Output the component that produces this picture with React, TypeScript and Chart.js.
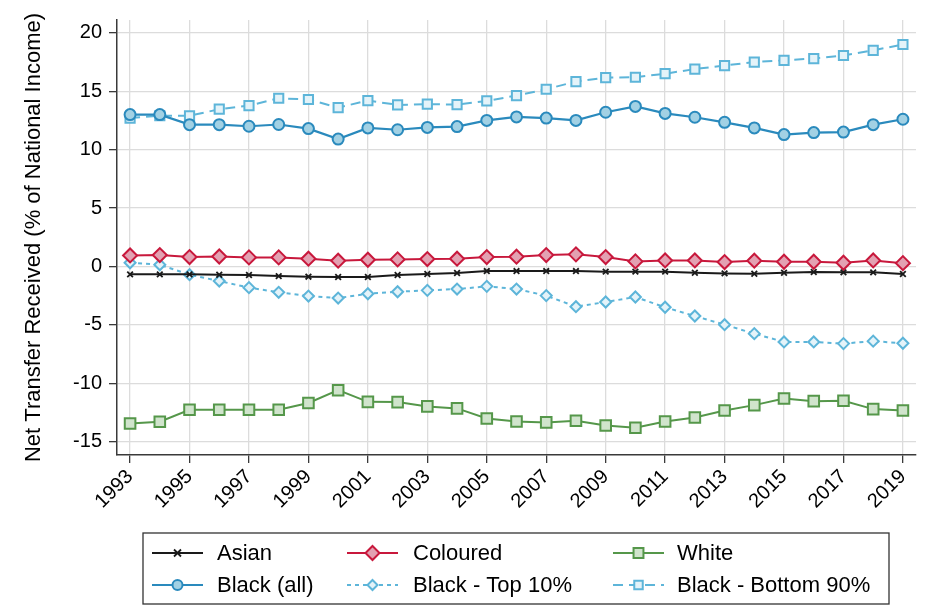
import React, { useEffect, useRef } from "react";
import { Chart, registerables } from "chart.js";

Chart.register(...registerables);

const years = [1993, 1994, 1995, 1996, 1997, 1998, 1999, 2000, 2001, 2002, 2003, 2004, 2005, 2006, 2007, 2008, 2009, 2010, 2011, 2012, 2013, 2014, 2015, 2016, 2017, 2018, 2019];
const asian = [-0.68, -0.68, -0.68, -0.71, -0.74, -0.83, -0.88, -0.91, -0.91, -0.74, -0.65, -0.57, -0.4, -0.4, -0.4, -0.4, -0.45, -0.45, -0.45, -0.54, -0.6, -0.63, -0.54, -0.48, -0.51, -0.51, -0.65];
const coloured = [0.94, 0.97, 0.8, 0.85, 0.77, 0.77, 0.66, 0.49, 0.57, 0.6, 0.63, 0.66, 0.8, 0.83, 0.97, 1.03, 0.8, 0.43, 0.51, 0.51, 0.37, 0.49, 0.4, 0.4, 0.31, 0.51, 0.28];
const white = [-13.45, -13.3, -12.28, -12.28, -12.28, -12.28, -11.7, -10.6, -11.6, -11.62, -11.99, -12.16, -13.02, -13.28, -13.36, -13.22, -13.62, -13.82, -13.28, -12.94, -12.34, -11.88, -11.31, -11.54, -11.51, -12.22, -12.34];
const blackAll = [13.0, 13.0, 12.14, 12.14, 12.0, 12.15, 11.8, 10.9, 11.86, 11.7, 11.9, 11.97, 12.5, 12.8, 12.7, 12.5, 13.2, 13.7, 13.1, 12.77, 12.34, 11.86, 11.29, 11.46, 11.5, 12.14, 12.6];
const blackTop10 = [0.31, 0.14, -0.71, -1.25, -1.82, -2.22, -2.54, -2.71, -2.34, -2.17, -2.05, -1.94, -1.71, -1.94, -2.5, -3.45, -3.05, -2.62, -3.5, -4.25, -4.99, -5.76, -6.47, -6.47, -6.61, -6.4, -6.58];
const blackBottom90 = [12.7, 12.9, 12.9, 13.46, 13.77, 14.4, 14.29, 13.6, 14.2, 13.83, 13.89, 13.86, 14.17, 14.63, 15.17, 15.83, 16.17, 16.2, 16.5, 16.9, 17.2, 17.5, 17.65, 17.8, 18.06, 18.5, 19.0];

const seriesLabels = ["Asian", "Coloured", "White", "Black (all)", "Black - Top 10%", "Black - Bottom 90%"];
const xTickYears = [1993, 1995, 1997, 1999, 2001, 2003, 2005, 2007, 2009, 2011, 2013, 2015, 2017, 2019];
const yTickValues = [-15, -10, -5, 0, 5, 10, 15, 20];
const yTitle = "Net Transfer Received (% of National Income)";

const FONT = "'Liberation Sans', Arial, Helvetica, sans-serif";

const toPoints = (vals: number[]) => vals.map((v, i) => ({ x: years[i], y: v }));

type Sty = {
  color: string;
  fill: string;
  shape: string;
  r: number;
  lr: number;
  dash: number[];
  width: number;
};

const styles: Sty[] = [
  { color: "#1a1a1a", fill: "#1a1a1a", shape: "crossRot", r: 4, lr: 3.5, dash: [], width: 2 },
  { color: "#c8183c", fill: "#e3a1b2", shape: "rectRot", r: 7, lr: 7, dash: [], width: 2 },
  { color: "#55974a", fill: "#d0e4cc", shape: "rect", r: 7.5, lr: 7, dash: [], width: 2 },
  { color: "#2a8abd", fill: "#a2d1e4", shape: "circle", r: 5.5, lr: 5, dash: [], width: 2.2 },
  { color: "#5db5d9", fill: "#e4f3f9", shape: "rectRot", r: 5.5, lr: 5, dash: [4, 4], width: 2 },
  { color: "#5db5d9", fill: "#e4f3f9", shape: "rect", r: 6.5, lr: 6, dash: [10, 6], width: 2 },
];

function drawMarker(ctx: CanvasRenderingContext2D, s: Sty, x: number, y: number, r: number) {
  ctx.save();
  ctx.setLineDash([]);
  ctx.lineWidth = s.shape === "crossRot" ? 1.8 : 2;
  ctx.strokeStyle = s.color;
  ctx.fillStyle = s.fill;
  ctx.beginPath();
  if (s.shape === "circle") {
    ctx.arc(x, y, r, 0, Math.PI * 2);
    ctx.fill();
    ctx.stroke();
  } else if (s.shape === "rect") {
    const h = r * Math.SQRT1_2;
    ctx.rect(x - h, y - h, 2 * h, 2 * h);
    ctx.fill();
    ctx.stroke();
  } else if (s.shape === "rectRot") {
    ctx.moveTo(x, y - r);
    ctx.lineTo(x + r, y);
    ctx.lineTo(x, y + r);
    ctx.lineTo(x - r, y);
    ctx.closePath();
    ctx.fill();
    ctx.stroke();
  } else {
    ctx.moveTo(x - r, y - r);
    ctx.lineTo(x + r, y + r);
    ctx.moveTo(x + r, y - r);
    ctx.lineTo(x - r, y + r);
    ctx.stroke();
  }
  ctx.restore();
}

const legendPlugin = {
  id: "gridLegend",
  afterDraw(chart: any) {
    const ctx: CanvasRenderingContext2D = chart.ctx;
    const box = { x: 143, y: 533, w: 746, h: 71 };
    ctx.save();
    ctx.strokeStyle = "#333333";
    ctx.lineWidth = 1.3;
    ctx.strokeRect(box.x, box.y, box.w, box.h);
    const sampleX = [152, 347, 613];
    const textX = [217, 413, 677];
    const rowY = [553, 585];
    ctx.font = `22px ${FONT}`;
    ctx.textBaseline = "middle";
    ctx.textAlign = "left";
    seriesLabels.forEach((label, i) => {
      const col = i % 3;
      const row = Math.floor(i / 3);
      const s = styles[i];
      const y = rowY[row];
      const x0 = sampleX[col];
      ctx.save();
      ctx.strokeStyle = s.color;
      ctx.lineWidth = s.width;
      ctx.setLineDash(s.dash);
      ctx.beginPath();
      ctx.moveTo(x0, y);
      ctx.lineTo(x0 + 51, y);
      ctx.stroke();
      ctx.restore();
      drawMarker(ctx, s, x0 + 25.5, y, s.lr);
      ctx.fillStyle = "#000000";
      ctx.fillText(label, textX[col], y + 1);
    });
    ctx.restore();
  },
};

export default function App() {
  const ref = useRef<HTMLCanvasElement | null>(null);

  useEffect(() => {
    if (!ref.current) return;
    const allSeries = [asian, coloured, white, blackAll, blackTop10, blackBottom90];
    const datasets = allSeries.map((vals, i) => {
      const s = styles[i];
      return {
        label: seriesLabels[i],
        data: toPoints(vals),
        borderColor: s.color,
        backgroundColor: s.fill,
        borderWidth: s.width,
        borderDash: s.dash,
        pointStyle: s.shape,
        pointRadius: s.r,
        pointBorderWidth: s.shape === "crossRot" ? 1.8 : 2,
        pointBorderColor: s.color,
        pointBackgroundColor: s.fill,
        tension: 0,
        fill: false,
      };
    });
    const gridColor = "#dcdcdc";
    const axisColor = "#3a3a3a";
    const chart = new Chart(ref.current, {
      type: "line",
      data: { datasets: datasets as any },
      options: {
        animation: false,
        responsive: false,
        devicePixelRatio: 1,
        layout: { padding: { left: 0, top: 20, right: 24, bottom: 0 } },
        plugins: { legend: { display: false }, tooltip: { enabled: false } },
        scales: {
          x: {
            type: "linear",
            min: 1992.56,
            max: 2019.44,
            afterBuildTicks: (axis: any) => {
              axis.ticks = xTickYears.map((v) => ({ value: v }));
            },
            afterFit: (axis: any) => {
              axis.height = 160;
            },
            grid: {
              color: gridColor,
              lineWidth: 1.3,
              drawTicks: true,
              tickLength: 8,
              tickColor: axisColor,
              tickWidth: 1.3,
            },
            border: { color: axisColor, width: 1.5 },
            ticks: {
              autoSkip: false,
              maxRotation: 45,
              minRotation: 45,
              padding: 2,
              color: "#000",
              font: { family: FONT, size: 20 },
              callback: (v: any) => String(v),
            },
          },
          y: {
            type: "linear",
            min: -16.15,
            max: 21.1,
            afterBuildTicks: (axis: any) => {
              axis.ticks = yTickValues.map((v) => ({ value: v }));
            },
            afterFit: (axis: any) => {
              axis.width = 117;
            },
            grid: {
              color: gridColor,
              lineWidth: 1.3,
              drawTicks: true,
              tickLength: 8,
              tickColor: axisColor,
              tickWidth: 1.3,
            },
            border: { color: axisColor, width: 1.5 },
            ticks: {
              padding: 7,
              color: "#000",
              font: { family: FONT, size: 20 },
              callback: (v: any) => String(v),
            },
            title: {
              display: true,
              text: yTitle,
              color: "#000",
              font: { family: FONT, size: 22, weight: "normal" },
              padding: { top: 21, bottom: 0 },
            },
          },
        },
      } as any,
      plugins: [legendPlugin],
    });
    return () => chart.destroy();
  }, []);

  return (
    <div style={{ position: "absolute", left: 0, top: 0, width: 940, height: 615, background: "#fff" }}>
      <canvas ref={ref} width={940} height={615} style={{ display: "block", width: 940, height: 615 }} />
    </div>
  );
}
